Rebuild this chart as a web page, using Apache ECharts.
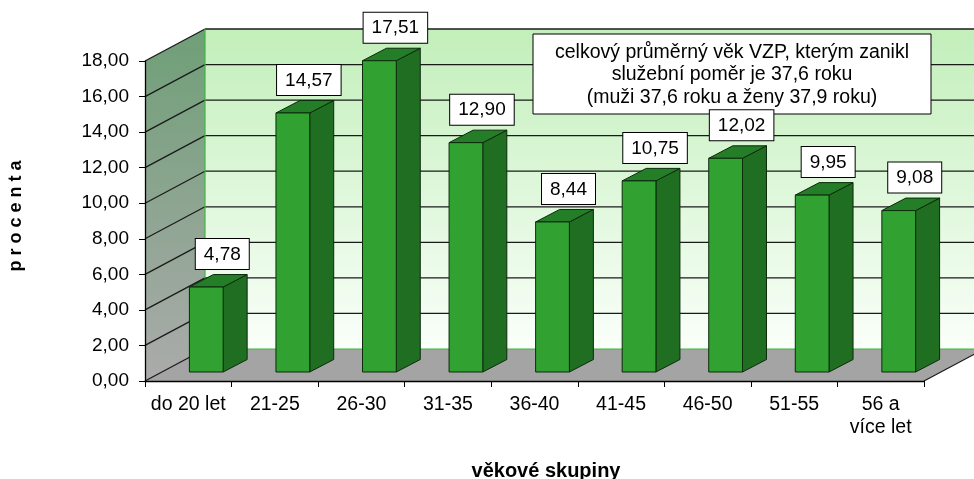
<!DOCTYPE html>
<html><head><meta charset="utf-8">
<script src="https://cdn.jsdelivr.net/npm/echarts@6/dist/echarts.min.js"></script>
<style>html,body{margin:0;padding:0;background:#fff}#c{width:974px;height:479px}</style>
</head><body><div id="c"></div>
<script>
const categories = ['do 20 let','21-25','26-30','31-35','36-40','41-45','46-50','51-55','56 a\nvíce let'];
const values = [4.78, 14.57, 17.51, 12.90, 8.44, 10.75, 12.02, 9.95, 9.08];
const yTicks = [0, 2, 4, 6, 8, 10, 12, 14, 16, 18];
const noteLines = ['celkový průměrný věk VZP, kterým zanikl', 'služební poměr je 37,6 roku', '(muži 37,6 roku a ženy 37,9 roku)'];
const yTitle = 'p r o c e n t a';
const xTitle = 'věkové skupiny';

const FONT = '"Liberation Sans", Arial, sans-serif';
const DX = 60, DY = -32;          // wall depth
const FX = 18, FY = -9;           // bar front offset
const BX = 24, BY = -12.5;        // bar depth
const LX = 16, LY = -18;          // label offset from bar front top
const fmt = v => v.toFixed(2).replace('.', ',');

const chart = echarts.init(document.getElementById('c'), null, {renderer: 'canvas'});

function wallsRender(params, api) {
  const cs = params.coordSys;
  const x0 = cs.x, x1 = cs.x + cs.width;
  const y0 = api.coord([0, yTicks[0]])[1];
  const yT = api.coord([0, yTicks[yTicks.length - 1]])[1];
  const ch = [];
  ch.push({type: 'polygon', shape: {points: [[x0 + DX, yT + DY], [x1 + DX + 40, yT + DY], [x1 + DX + 40, y0 + DY], [x0 + DX, y0 + DY]]},
    style: {fill: new echarts.graphic.LinearGradient(0, 0, 0, 1, [{offset: 0, color: '#c2efba'}, {offset: 1, color: '#fafffa'}]), stroke: null}});
  ch.push({type: 'polygon', shape: {points: [[x0, y0], [x0, yT], [x0 + DX, yT + DY], [x0 + DX, y0 + DY]]},
    style: {fill: new echarts.graphic.LinearGradient(0, 0, 0, 1, [{offset: 0, color: '#6f9f77'}, {offset: 1, color: '#ababab'}]), stroke: null}});
  ch.push({type: 'polygon', shape: {points: [[x0, y0], [x1, y0], [x1 + DX, y0 + DY], [x0 + DX, y0 + DY]]},
    style: {fill: '#a4a4a4', stroke: null}});
  yTicks.forEach((t, k) => {
    const y = api.coord([0, t])[1];
    ch.push({type: 'line', shape: {x1: x0, y1: y, x2: x0 + DX, y2: y + DY}, style: {stroke: '#1a1a1a', lineWidth: 1.3}});
    if (k > 0) ch.push({type: 'line', shape: {x1: x0 + DX, y1: y + DY, x2: x1 + DX + 40, y2: y + DY}, style: {stroke: '#1a1a1a', lineWidth: 1.3}});
  });
  ch.push({type: 'line', shape: {x1: x0 + DX, y1: yT + DY, x2: x0 + DX, y2: y0 + DY}, style: {stroke: '#3db83d', lineWidth: 1.2}});
  ch.push({type: 'line', shape: {x1: x0 + DX, y1: y0 + DY, x2: x1 + DX + 40, y2: y0 + DY}, style: {stroke: '#3db83d', lineWidth: 1.2}});
  ch.push({type: 'line', shape: {x1: x1, y1: y0, x2: x1 + DX, y2: y0 + DY}, style: {stroke: '#1a1a1a', lineWidth: 1.2}});
  return {type: 'group', children: ch};
}

function barRender(params, api) {
  const i = api.value(0), v = api.value(1);
  const base = api.coord([i, 0]);
  const top = api.coord([i, v]);
  const bw = api.size([1, 0])[0] * 0.39;
  const cx = base[0] + FX, by = base[1] + FY, ty = top[1] + FY;
  const l = cx - bw / 2, r = cx + bw / 2;
  const st = {stroke: '#0d2a0d', lineWidth: 1};
  return {type: 'group', children: [
    {type: 'polygon', shape: {points: [[r, ty], [r + BX, ty + BY], [r + BX, by + BY], [r, by]]}, style: Object.assign({fill: '#1f6e21'}, st)},
    {type: 'polygon', shape: {points: [[l, ty], [l + BX, ty + BY], [r + BX, ty + BY], [r, ty]]}, style: Object.assign({fill: '#247d27'}, st)},
    {type: 'rect', shape: {x: l, y: ty, width: bw, height: by - ty}, style: Object.assign({fill: '#31a231'}, st)},
    {type: 'text', z2: 50, style: {text: fmt(v), x: cx + LX, y: ty + LY, align: 'center', verticalAlign: 'bottom',
      font: '19px ' + FONT, fill: '#000', backgroundColor: '#fff', borderColor: '#000', borderWidth: 1, padding: [6, 8, 5, 8]}}
  ]};
}

chart.setOption({
  animation: false,
  backgroundColor: '#fff',
  grid: {left: 145, right: 50, top: 61, bottom: 98, containLabel: false},
  xAxis: {type: 'category', data: categories, boundaryGap: true, z: 10,
    axisLine: {show: true, lineStyle: {color: '#000', width: 1.3}},
    axisTick: {show: true, length: 6, lineStyle: {color: '#000'}},
    axisLabel: {interval: 0, margin: 12, fontSize: 19.5, lineHeight: 23, color: '#000', fontFamily: FONT},
    splitLine: {show: false}},
  yAxis: {type: 'value', min: 0, max: 18, interval: 2, z: 10,
    axisLine: {show: true, lineStyle: {color: '#000', width: 1.3}},
    axisTick: {show: true, length: 6, lineStyle: {color: '#000'}},
    axisLabel: {margin: 16, fontSize: 19, color: '#000', fontFamily: FONT, formatter: v => fmt(v)},
    splitLine: {show: false}},
  series: [
    {type: 'custom', z: 1, clip: false, silent: true, renderItem: wallsRender, data: [[0, 0]], encode: {x: 0, y: 1}},
    {type: 'custom', z: 3, clip: false, renderItem: barRender, data: values.map((v, i) => [i, v]), encode: {x: 0, y: 1}}
  ],
  graphic: [
    {type: 'rect', z: 2, shape: {x: 533, y: 34, width: 398, height: 80}, style: {fill: '#fff', stroke: '#000', lineWidth: 1}},
    {type: 'text', z: 2, z2: 5, style: {text: noteLines.join('\n'), x: 732, y: 75, align: 'center', verticalAlign: 'middle',
      font: '19.5px ' + FONT, lineHeight: 22.5, fill: '#000'}},
    {type: 'text', z: 21, x: 16, y: 216, rotation: Math.PI / 2, style: {text: yTitle, x: 0, y: 0, align: 'center', verticalAlign: 'middle',
      font: 'bold 18px ' + FONT, fill: '#000'}},
    {type: 'text', z: 21, style: {text: xTitle, x: 546, y: 471, align: 'center', verticalAlign: 'middle',
      font: 'bold 20px ' + FONT, fill: '#000'}}
  ]
});
</script></body></html>
